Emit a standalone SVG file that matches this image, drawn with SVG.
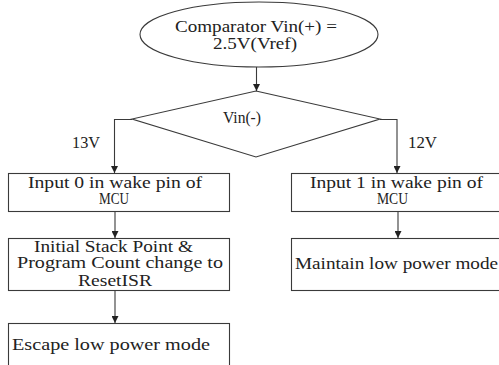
<svg xmlns="http://www.w3.org/2000/svg" width="499" height="365" viewBox="0 0 499 365">
<style>
.shape{fill:#fff;stroke:#3a3a3a;stroke-width:1.1}
.conn{fill:none;stroke:#3a3a3a;stroke-width:1.1}
.t{font-family:'Liberation Serif','Times New Roman',serif;font-size:16px;fill:#222}
</style>
<defs>
<marker id="ah" viewBox="0 0 10 10" refX="10" refY="5" markerWidth="7" markerHeight="7" markerUnits="userSpaceOnUse" orient="auto">
<path d="M0,0 L10,5 L0,10 z" fill="#222"/>
</marker>
</defs>
<rect width="499" height="365" fill="#fff"/>
<g id="start">
<ellipse class="shape" cx="259" cy="34.5" rx="119" ry="32.5"/>
<text class="t" x="175" y="32" textLength="162" lengthAdjust="spacingAndGlyphs">Comparator Vin(+) =</text>
<text class="t" x="213" y="48.5" textLength="84" lengthAdjust="spacingAndGlyphs">2.5V(Vref)</text>
</g>
<g id="decision">
<polygon class="shape" points="256,91 380,119 256,157 132,119"/>
<text class="t" x="223" y="123" textLength="38" lengthAdjust="spacingAndGlyphs">Vin(-)</text>
</g>
<g id="input0">
<rect class="shape" x="8.5" y="173.5" width="221" height="38"/>
<text class="t" x="28" y="188" textLength="174" lengthAdjust="spacingAndGlyphs">Input 0 in wake pin of</text>
<text class="t" x="99" y="203.5" textLength="30" lengthAdjust="spacingAndGlyphs">MCU</text>
</g>
<g id="reset">
<rect class="shape" x="8.5" y="238.5" width="221" height="52"/>
<text class="t" x="34" y="252" textLength="159" lengthAdjust="spacingAndGlyphs">Initial Stack Point &amp;</text>
<text class="t" x="17" y="268" textLength="206" lengthAdjust="spacingAndGlyphs">Program Count change to</text>
<text class="t" x="78" y="286" textLength="74" lengthAdjust="spacingAndGlyphs">ResetISR</text>
</g>
<g id="escape">
<rect class="shape" x="8.5" y="323.5" width="221" height="60"/>
<text class="t" x="12" y="350" textLength="198" lengthAdjust="spacingAndGlyphs">Escape low power mode</text>
</g>
<g id="input1">
<rect class="shape" x="291.5" y="173.5" width="220" height="38"/>
<text class="t" x="310" y="188" textLength="173" lengthAdjust="spacingAndGlyphs">Input 1 in wake pin of</text>
<text class="t" x="377" y="203.5" textLength="31" lengthAdjust="spacingAndGlyphs">MCU</text>
</g>
<g id="maintain">
<rect class="shape" x="291.5" y="238.5" width="220" height="52"/>
<text class="t" x="295" y="269" textLength="203" lengthAdjust="spacingAndGlyphs">Maintain low power mode</text>
</g>
<g id="connectors">
<line class="conn" x1="256.5" y1="67" x2="256.5" y2="91" marker-end="url(#ah)"/>
<polyline class="conn" points="132,119.5 114.5,119.5 114.5,173" marker-end="url(#ah)"/>
<polyline class="conn" points="380,119.5 397,119.5 397,173" marker-end="url(#ah)"/>
<line class="conn" x1="115" y1="212" x2="115" y2="238" marker-end="url(#ah)"/>
<line class="conn" x1="115" y1="291" x2="115" y2="323" marker-end="url(#ah)"/>
<line class="conn" x1="398" y1="212" x2="398" y2="238" marker-end="url(#ah)"/>
<text class="t" x="72" y="148" textLength="28" lengthAdjust="spacingAndGlyphs">13V</text>
<text class="t" x="408" y="148" textLength="29" lengthAdjust="spacingAndGlyphs">12V</text>
</g>
</svg>
